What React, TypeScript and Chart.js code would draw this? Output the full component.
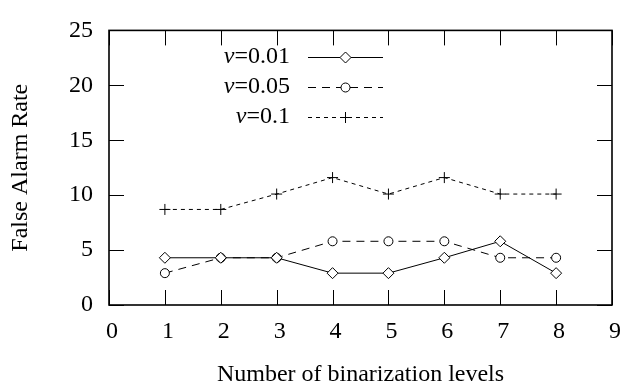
import React, { useEffect, useRef } from "react";
import { Chart, registerables } from "chart.js";

Chart.register(...registerables);

// ---- data ----
const levels = [1, 2, 3, 4, 5, 6, 7, 8];
const nu001 = [4.3, 4.3, 4.3, 2.9, 2.9, 4.3, 5.8, 2.9];
const nu005 = [2.9, 4.3, 4.3, 5.8, 5.8, 5.8, 4.3, 4.3];
const nu01 = [8.7, 8.7, 10.1, 11.6, 10.1, 11.6, 10.1, 10.1];
const nuValues = ["0.01", "0.05", "0.1"];
const xTickValues = [0, 1, 2, 3, 4, 5, 6, 7, 8, 9];
const yTickValues = [0, 5, 10, 15, 20, 25];
const xTitle = "Number of binarization levels";
const yTitle = "False Alarm Rate";

const FONT = "'Liberation Serif', 'DejaVu Serif', serif";
const FONT_SIZE = 24;
const TICK_LEN = 15;

const seriesStyles = [
  { pointStyle: "rectRot", radius: 5.5, dash: [] as number[] },
  { pointStyle: "circle", radius: 4.5, dash: [8, 6] },
  { pointStyle: "cross", radius: 5.5, dash: [4, 4] },
];
const seriesValues = [nu001, nu005, nu01];

function drawMarker(ctx: CanvasRenderingContext2D, style: string, x: number, y: number, r: number) {
  ctx.beginPath();
  if (style === "rectRot") {
    ctx.moveTo(x, y - r);
    ctx.lineTo(x + r, y);
    ctx.lineTo(x, y + r);
    ctx.lineTo(x - r, y);
    ctx.closePath();
    ctx.fillStyle = "#fff";
    ctx.fill();
    ctx.stroke();
  } else if (style === "circle") {
    ctx.arc(x, y, r, 0, Math.PI * 2);
    ctx.fillStyle = "#fff";
    ctx.fill();
    ctx.stroke();
  } else {
    ctx.moveTo(x - r, y);
    ctx.lineTo(x + r, y);
    ctx.moveTo(x, y - r);
    ctx.lineTo(x, y + r);
    ctx.stroke();
  }
}

const framePlugin = {
  id: "frame",
  beforeDatasetsDraw(chart: any) {
    const { ctx, chartArea: a, scales } = chart;
    const x = scales.x;
    const y = scales.y;
    ctx.save();
    ctx.strokeStyle = "#000";
    ctx.lineWidth = 1;
    ctx.setLineDash([]);
    ctx.beginPath();
    for (const v of xTickValues) {
      const px = Math.round(x.getPixelForValue(v)) + 0.5;
      ctx.moveTo(px, a.bottom);
      ctx.lineTo(px, a.bottom - TICK_LEN);
      ctx.moveTo(px, a.top);
      ctx.lineTo(px, a.top + TICK_LEN);
    }
    for (const v of yTickValues) {
      const py = Math.round(y.getPixelForValue(v)) + 0.5;
      ctx.moveTo(a.left, py);
      ctx.lineTo(a.left + TICK_LEN, py);
      ctx.moveTo(a.right, py);
      ctx.lineTo(a.right - TICK_LEN, py);
    }
    ctx.stroke();
    ctx.lineWidth = 1.6;
    ctx.strokeRect(a.left, a.top, a.right - a.left, a.bottom - a.top);
    ctx.restore();
  },
};

const legendPlugin = {
  id: "customLegend",
  afterDatasetsDraw(chart: any) {
    const { ctx } = chart;
    const textRight = 290;
    const lineStart = 308;
    const lineEnd = 383;
    const rowY = [57, 87, 117];
    ctx.save();
    ctx.strokeStyle = "#000";
    ctx.fillStyle = "#000";
    ctx.lineWidth = 1;
    ctx.textBaseline = "middle";
    seriesStyles.forEach((s, i) => {
      const yy = rowY[i];
      const rest = "=" + nuValues[i];
      ctx.font = FONT_SIZE + "px " + FONT;
      ctx.textAlign = "right";
      ctx.fillStyle = "#000";
      ctx.fillText(rest, textRight, yy);
      const w = ctx.measureText(rest).width;
      ctx.font = "italic " + FONT_SIZE + "px " + FONT;
      ctx.fillText("\u03BD", textRight - w, yy);
      ctx.setLineDash(s.dash);
      ctx.beginPath();
      ctx.moveTo(lineStart, yy + 0.5);
      ctx.lineTo(lineEnd, yy + 0.5);
      ctx.stroke();
      ctx.setLineDash([]);
      drawMarker(ctx, s.pointStyle, (lineStart + lineEnd) / 2, yy + 0.5, s.radius);
    });
    ctx.restore();
  },
};

export default function App() {
  const ref = useRef<HTMLCanvasElement | null>(null);
  useEffect(() => {
    document.body.style.margin = "0";
    const canvas = ref.current;
    if (!canvas) return;
    const datasets = seriesValues.map((vals, i) => ({
      label: "\u03BD=" + nuValues[i],
      data: levels.map((lv, j) => ({ x: lv, y: vals[j] })),
      borderColor: "#000",
      borderWidth: 1,
      borderDash: seriesStyles[i].dash,
      pointStyle: seriesStyles[i].pointStyle,
      pointRadius: seriesStyles[i].radius,
      pointBackgroundColor: "#fff",
      pointBorderColor: "#000",
      pointBorderWidth: 1,
      tension: 0,
      fill: false,
      clip: false as any,
    }));
    const chart = new Chart(canvas, {
      type: "line",
      data: { datasets },
      options: {
        animation: false,
        responsive: false,
        devicePixelRatio: 1,
        layout: { padding: { top: 19, right: 10, left: 0, bottom: 0 } },
        plugins: { legend: { display: false }, tooltip: { enabled: false } },
        scales: {
          x: {
            type: "linear",
            min: 0,
            max: 9,
            afterFit: (s: any) => {
              s.height = 87;
            },
            afterBuildTicks: (s: any) => {
              s.ticks = xTickValues.map((v) => ({ value: v }));
            },
            grid: { display: false, drawTicks: false },
            border: { display: false },
            ticks: { color: "#000", padding: 12, labelOffset: 3, font: { family: FONT, size: FONT_SIZE } },
            title: {
              display: true,
              text: xTitle,
              color: "#000",
              font: { family: FONT, size: FONT_SIZE },
              padding: { top: 0, bottom: 3 },
            },
          },
          y: {
            type: "linear",
            min: 0,
            max: 25,
            afterFit: (s: any) => {
              s.width = 109;
            },
            afterBuildTicks: (s: any) => {
              s.ticks = yTickValues.map((v) => ({ value: v }));
            },
            grid: { display: false, drawTicks: false },
            border: { display: false },
            ticks: { color: "#000", padding: 16, font: { family: FONT, size: FONT_SIZE } },
            title: {
              display: true,
              text: yTitle,
              color: "#000",
              font: { family: FONT, size: FONT_SIZE },
              padding: { top: 6, bottom: 0 },
            },
          },
        },
      } as any,
      plugins: [framePlugin, legendPlugin],
    });
    return () => chart.destroy();
  }, []);
  return (
    <div style={{ width: 630, height: 392 }}>
      <canvas ref={ref} width={630} height={392} style={{ display: "block" }} />
    </div>
  );
}
